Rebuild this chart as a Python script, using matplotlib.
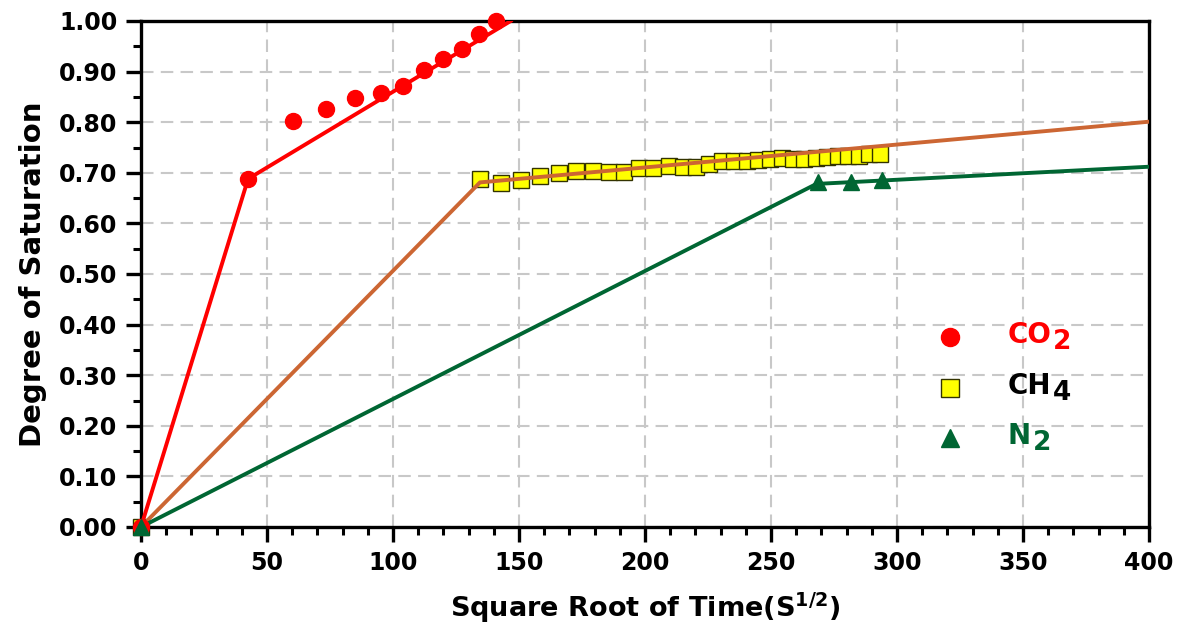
import matplotlib
matplotlib.use("Agg")
import matplotlib.pyplot as plt
from matplotlib.ticker import MultipleLocator, FormatStrFormatter

plt.rcParams['font.family'] = ['DejaVu Sans']
plt.rcParams['font.weight'] = 'bold'
plt.rcParams['mathtext.fontset'] = 'custom'
plt.rcParams['mathtext.rm'] = 'DejaVu Sans:bold'
plt.rcParams['mathtext.bf'] = 'DejaVu Sans:bold'
plt.rcParams['mathtext.it'] = 'DejaVu Sans:bold'
plt.rcParams['mathtext.default'] = 'bf'

# ---- data ----
co2_x = [0, 42.5, 60.2, 73.6, 85.0, 95.1, 104.1, 112.3, 120.0, 127.5, 134.3, 140.9]
co2_y = [0, 0.688, 0.803, 0.827, 0.848, 0.858, 0.871, 0.903, 0.925, 0.945, 0.974, 1.00]
co2_fit_x = [0, 42.5, 146.7]
co2_fit_y = [0, 0.688, 1.0]

ch4_x = [0, 134.5, 142.9, 150.8, 158.3, 165.7, 172.6, 179.2, 185.6, 191.8, 197.7,
         203.3, 209.4, 214.9, 220.1, 225.5, 230.4, 235.3, 240.3, 244.9, 249.6,
         254.2, 258.9, 263.2, 267.9, 272.1, 276.4, 280.7, 285.0, 289.0, 293.3]
ch4_y = [0, 0.687, 0.680, 0.686, 0.694, 0.699, 0.704, 0.704, 0.701, 0.701, 0.710,
         0.710, 0.713, 0.712, 0.712, 0.717, 0.724, 0.724, 0.724, 0.725, 0.728,
         0.730, 0.728, 0.728, 0.730, 0.732, 0.734, 0.734, 0.734, 0.737, 0.738]
ch4_fit_x = [0, 134.5, 400]
ch4_fit_y = [0, 0.681, 0.801]

n2_x = [0, 268.8, 281.6, 294.2]
n2_y = [0, 0.682, 0.681, 0.686]
n2_fit_x = [0, 268.0, 400]
n2_fit_y = [0, 0.678, 0.712]

legend_main = ['CO', 'CH', 'N']
legend_sub = ['2', '4', '2']

red = '#FF0000'
orange = '#CC6633'
green = '#006633'
yellow = '#FFFF00'
edge = '#333300'

fig = plt.figure(figsize=(12, 6.25), dpi=100)
ax = fig.add_axes([0.1175, 0.1568, 0.84, 0.8096])

ax.plot(co2_fit_x, co2_fit_y, color=red, lw=2.8, zorder=3)
ax.plot(ch4_fit_x, ch4_fit_y, color=orange, lw=2.8, zorder=3)
ax.plot(n2_fit_x, n2_fit_y, color=green, lw=2.8, zorder=3)

ax.plot(co2_x, co2_y, 'o', color=red, ms=11.5, mec=red, zorder=4, clip_on=False)
ax.plot(ch4_x, ch4_y, 's', color=yellow, ms=11, mec=edge, mew=1.0, zorder=2, clip_on=False)
ax.plot(n2_x, n2_y, '^', color=green, ms=12, mec=green, zorder=4, clip_on=False)

ax.set_xlim(0, 400)
ax.set_ylim(0, 1.0)
ax.xaxis.set_major_locator(MultipleLocator(50))
ax.xaxis.set_minor_locator(MultipleLocator(10))
ax.yaxis.set_major_locator(MultipleLocator(0.1))
ax.yaxis.set_minor_locator(MultipleLocator(0.05))
ax.yaxis.set_major_formatter(FormatStrFormatter('%.2f'))

ax.grid(True, which='major', color='#C8C8C8', linestyle=(0, (6, 3.5)), lw=1.5, zorder=0)
for s in ax.spines.values():
    s.set_linewidth(2.4)
ax.tick_params(which='major', direction='out', length=11, width=2.4, labelsize=17, pad=6)
ax.tick_params(which='minor', direction='out', length=6, width=2.2)
for lab in ax.get_xticklabels() + ax.get_yticklabels():
    lab.set_fontweight('bold')

ax.set_xlabel('Square Root of Time(S$^{1/2}$)', fontsize=19.5, fontweight='bold')
ax.set_ylabel('Degree of Saturation', fontsize=21, fontweight='bold')
ax.xaxis.set_label_coords(0.5, -0.125)
ax.yaxis.set_label_coords(-0.093, 0.5)

# ---- legend (drawn manually to get large subscripts) ----
leg_marker_x = 0.8026
leg_text_x = 0.860
leg_rows = [0.3755, 0.2747, 0.1759]
leg_colors = [red, 'black', green]
leg_markers = [dict(marker='o', color=red, mec=red, ms=13),
               dict(marker='s', color=yellow, mec=edge, mew=1.0, ms=13),
               dict(marker='^', color=green, mec=green, ms=13)]
for y, main, sub, col, mk in zip(leg_rows, legend_main, legend_sub, leg_colors, leg_markers):
    ax.plot([leg_marker_x], [y], ls='none', transform=ax.transAxes, clip_on=False, zorder=5, **mk)
    t = ax.text(leg_text_x, y + 0.004, main, transform=ax.transAxes, color=col,
                fontsize=20, fontweight='bold', ha='left', va='center', zorder=5)
    ax.annotate(sub, xy=(1, 0), xycoords=t, xytext=(1, 0), textcoords='offset points',
                color=col, fontsize=19, fontweight='bold', ha='left', va='baseline', zorder=5)

fig.savefig('out.png', dpi=100)
